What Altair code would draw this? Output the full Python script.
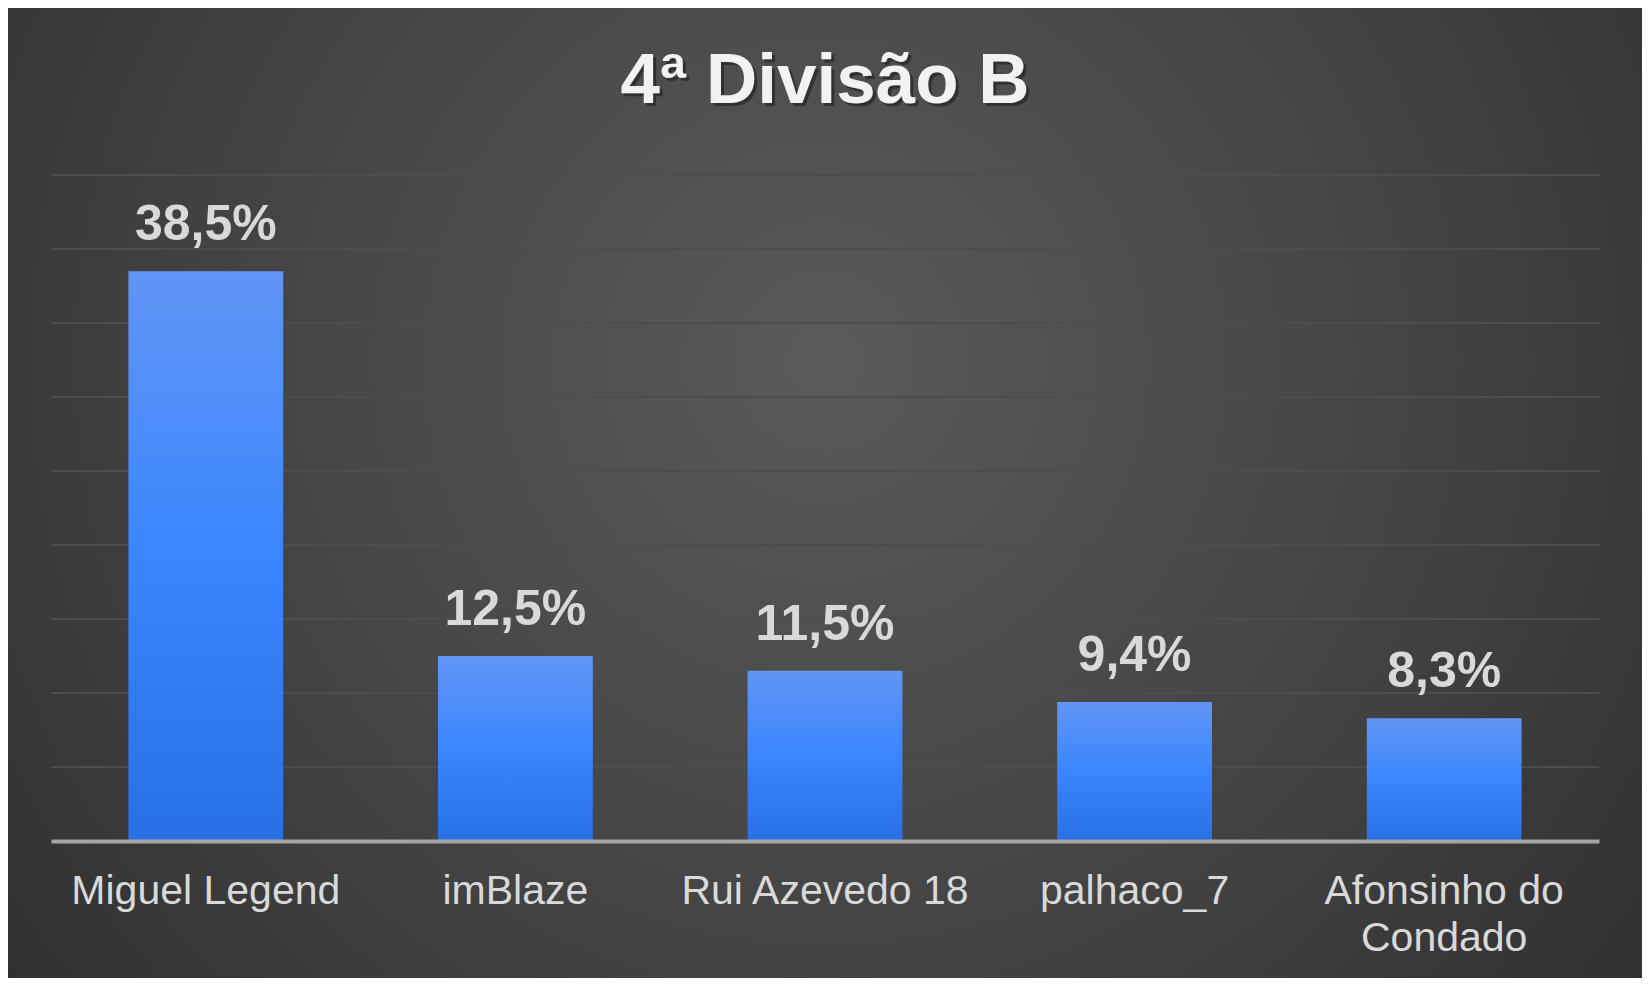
import altair as alt
import pandas as pd

players = ["Miguel Legend", "imBlaze", "Rui Azevedo 18", "palhaco_7", "Afonsinho do Condado"]
shares = [38.5, 12.5, 11.5, 9.4, 8.3]
grid_values = [5, 10, 15, 20, 25, 30, 35, 40, 45]
title_text = "4ª Divisão B"

labels = [f"{v:.1f}".replace(".", ",") + "%" for v in shares]
df = pd.DataFrame({"player": players, "share": shares, "label": labels})
grid_df = pd.DataFrame({"g": grid_values})
bg_df = pd.DataFrame({"k": [0]})

W, H = 1548, 666
PL, PT, PR, PB = 43, 167, 43, 137
FONT = "Liberation Sans"

yscale = alt.Scale(domain=[0, 45], nice=False)

background = alt.Chart(bg_df).mark_rect(
    color={
        "gradient": "radial",
        "x1": 0.5, "y1": 0.42, "r1": 0.0,
        "x2": 0.5, "y2": 0.42, "r2": 0.75,
        "stops": [
            {"offset": 0.0, "color": "#5a5a5a"},
            {"offset": 0.55, "color": "#404040"},
            {"offset": 1.0, "color": "#272727"},
        ],
    }
).encode(
    x=alt.value(-PL), x2=alt.value(W + PR),
    y=alt.value(-PT), y2=alt.value(H + PB),
)

grid = alt.Chart(grid_df).mark_rule(color="#4d4d4d", strokeWidth=2).encode(
    y=alt.Y("g:Q", scale=yscale, axis=None),
    x=alt.value(0), x2=alt.value(W),
)

xenc = alt.X(
    "player:N",
    sort=players,
    scale=alt.Scale(paddingInner=0.5, paddingOuter=0.25),
    axis=alt.Axis(
        title=None,
        labelAngle=0,
        labelFont=FONT,
        labelFontSize=41,
        labelColor="#d9d9d9",
        labelBaseline="alphabetic",
        labelPadding=62,
        labelLineHeight=47,
        labelLimit=0,
        labelExpr="datum.label == 'Afonsinho do Condado' ? ['Afonsinho do', 'Condado'] : datum.label",
        ticks=False,
        tickSize=0,
        domain=True,
        domainColor="#a6a6a6",
        domainWidth=4,
        grid=False,
        zindex=1,
    ),
)

bars = alt.Chart(df).mark_bar(
    color={
        "gradient": "linear",
        "x1": 0, "y1": 0, "x2": 0, "y2": 1,
        "stops": [
            {"offset": 0.0, "color": "#6195f6"},
            {"offset": 0.5, "color": "#3a86fd"},
            {"offset": 1.0, "color": "#2870e4"},
        ],
    }
).encode(x=xenc, y=alt.Y("share:Q", scale=yscale, axis=None))

values_text = alt.Chart(df).mark_text(
    font=FONT,
    fontSize=50,
    fontWeight="bold",
    color="#d9d9d9",
    baseline="alphabetic",
    align="center",
    dy=-31,
).encode(x=alt.X("player:N", sort=players), y=alt.Y("share:Q", scale=yscale), text="label:N")

title_shadow = alt.Chart(bg_df).mark_text(
    font=FONT, fontSize=71, fontWeight="bold", color="#1e1e1e", opacity=0.6,
    baseline="alphabetic", align="center",
).encode(x=alt.value(W / 2 + 3), y=alt.value(-72 + 3), text=alt.value(title_text))

title = alt.Chart(bg_df).mark_text(
    font=FONT, fontSize=71, fontWeight="bold", color="#f2f2f2",
    baseline="alphabetic", align="center",
).encode(x=alt.value(W / 2), y=alt.value(-72), text=alt.value(title_text))

chart = alt.layer(background, grid, bars, values_text, title_shadow, title).properties(
    width=W,
    height=H,
    autosize=alt.AutoSizeParams(type="none"),
    padding={"left": PL, "top": PT, "right": PR, "bottom": PB},
    background="#2b2b2b",
).configure_view(stroke=None)

chart.save("out.html", embed_options={"renderer": "svg", "actions": False})
